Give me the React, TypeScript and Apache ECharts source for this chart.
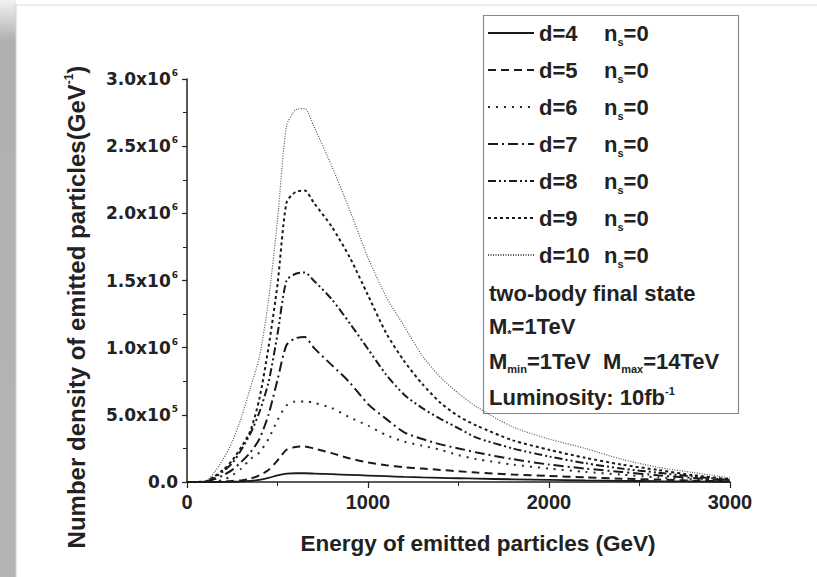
import React, { useEffect, useRef } from "react";
import * as echarts from "echarts";

const energy = [0, 100, 150, 200, 250, 300, 350, 400, 450, 500, 550, 600, 650, 700, 800, 900, 1000, 1100, 1200, 1300, 1400, 1500, 1600, 1800, 2000, 2200, 2400, 2600, 2800, 3000];

// values in units of 1e6 GeV^-1
const d4 = [0, 0, 0, 0.001, 0.002, 0.004, 0.008, 0.015, 0.03, 0.05, 0.062, 0.065, 0.065, 0.063, 0.058, 0.053, 0.048, 0.043, 0.038, 0.034, 0.031, 0.028, 0.025, 0.02, 0.016, 0.012, 0.009, 0.006, 0.004, 0.002];
const d5 = [0, 0, 0, 0.003, 0.008, 0.012, 0.025, 0.05, 0.09, 0.16, 0.24, 0.26, 0.265, 0.25, 0.215, 0.175, 0.145, 0.125, 0.11, 0.1, 0.09, 0.08, 0.07, 0.055, 0.045, 0.035, 0.025, 0.018, 0.01, 0.004];
const d6 = [0, 0, 0.005, 0.015, 0.05, 0.1, 0.17, 0.22, 0.32, 0.46, 0.57, 0.6, 0.6, 0.59, 0.55, 0.48, 0.42, 0.35, 0.3, 0.27, 0.24, 0.2, 0.17, 0.13, 0.1, 0.075, 0.055, 0.035, 0.02, 0.008];
const d7 = [0, 0.001, 0.02, 0.05, 0.09, 0.15, 0.22, 0.32, 0.5, 0.76, 1.02, 1.07, 1.08, 1.0, 0.87, 0.74, 0.58, 0.47, 0.37, 0.32, 0.28, 0.25, 0.22, 0.17, 0.13, 0.1, 0.075, 0.05, 0.03, 0.01];
const d8 = [0, 0.002, 0.03, 0.08, 0.14, 0.24, 0.36, 0.52, 0.74, 1.1, 1.5, 1.55, 1.56, 1.5, 1.36, 1.18, 0.99, 0.8, 0.65, 0.55, 0.47, 0.4, 0.33, 0.25, 0.19, 0.14, 0.1, 0.07, 0.04, 0.015];
const d9 = [0, 0.003, 0.04, 0.09, 0.16, 0.26, 0.38, 0.62, 1.0, 1.47, 2.08, 2.16, 2.17, 2.08, 1.9, 1.67, 1.39, 1.11, 0.9, 0.73, 0.59, 0.49, 0.42, 0.31, 0.24, 0.18, 0.13, 0.09, 0.05, 0.02];
const d10 = [0, 0.005, 0.07, 0.17, 0.3, 0.48, 0.7, 0.93, 1.35, 1.95, 2.65, 2.77, 2.78, 2.65, 2.35, 2.02, 1.67, 1.38, 1.16, 0.94, 0.78, 0.66, 0.56, 0.41, 0.32, 0.25, 0.17, 0.11, 0.07, 0.03];

const seriesNames = ["d=4", "d=5", "d=6", "d=7", "d=8", "d=9", "d=10"];
const seriesValues = [d4, d5, d6, d7, d8, d9, d10];
const seriesDash: (string | number[])[] = ["solid", [8, 5], [2, 6], [10, 4, 2, 4], [8, 3, 2, 3, 2, 3], [3, 3], [1, 1.5]];
const seriesColor = ["#1a1a1a", "#1a1a1a", "#2a2a2a", "#1a1a1a", "#1a1a1a", "#1a1a1a", "#555555"];
const seriesWidth = [1.8, 2, 2, 2, 2, 2, 1.2];

const yMantissa = ["0.0", "5.0", "1.0", "1.5", "2.0", "2.5", "3.0"];
const yExponent = ["", "5", "6", "6", "6", "6", "6"];
const xTickLabels = ["0", "1000", "2000", "3000"];

const infoLines = [
  "two-body final state",
  "M{sub|*}=1TeV",
  "M{sub|min}=1TeV  M{sub|max}=14TeV",
  "Luminosity: 10fb{sup|-1}",
];

const FONT = "'Liberation Sans', Arial, sans-serif";
const WIDE = "'DejaVu Sans', sans-serif";
const INK = "#222";

export default function App() {
  const ref = useRef<HTMLDivElement>(null);
  useEffect(() => {
    if (!ref.current) return;
    const chart = echarts.init(ref.current, undefined, { renderer: "svg" });
    const series = seriesNames.map((name, i) => ({
      name,
      type: "line",
      data: energy.map((e, k) => [e, seriesValues[i][k] * 1e6]),
      showSymbol: false,
      symbol: "none",
      smooth: 0.25,
      lineStyle: { color: seriesColor[i], width: seriesWidth[i], type: seriesDash[i] },
      itemStyle: { color: seriesColor[i] },
      z: 10 - i,
    }));
    const infoY = [293, 326, 361, 397];
    chart.setOption({
      animation: false,
      backgroundColor: "#ffffff",
      textStyle: { fontFamily: FONT },
      grid: { left: 187, right: 87, top: 79, bottom: 95, containLabel: false },
      xAxis: {
        type: "value",
        min: 0,
        max: 3000,
        interval: 1000,
        axisLine: { show: true, lineStyle: { color: INK, width: 1.5 } },
        axisTick: { show: true, length: 6, lineStyle: { color: INK, width: 1.2 } },
        minorTick: { show: true, splitNumber: 2, length: 4, lineStyle: { color: INK, width: 1 } },
        splitLine: { show: false },
        axisLabel: {
          margin: 10,
          fontSize: 20,
          fontWeight: "bold",
          color: INK,
          fontFamily: FONT,
          formatter: (v: number) => xTickLabels[Math.round(v / 1000)] ?? "",
        },
      },
      yAxis: {
        type: "value",
        min: 0,
        max: 3000000,
        interval: 500000,
        axisLine: { show: true, lineStyle: { color: INK, width: 1.5 } },
        axisTick: { show: true, length: 5, lineStyle: { color: INK, width: 1.2 } },
        minorTick: { show: true, splitNumber: 2, length: 4, lineStyle: { color: INK, width: 1 } },
        splitLine: { show: false },
        axisLabel: {
          margin: 9,
          fontSize: 17,
          fontWeight: "bold",
          color: INK,
          fontFamily: WIDE,
          formatter: (v: number) => {
            const i = Math.round(v / 500000);
            return yExponent[i] ? `${yMantissa[i]}x10{sup|${yExponent[i]}}` : yMantissa[i];
          },
          rich: {
            sup: { fontSize: 9, fontWeight: "bold", color: INK, fontFamily: WIDE, verticalAlign: "top", padding: [0, 0, 12, 1] },
          },
        },
      },
      legend: {
        data: seriesNames,
        orient: "vertical",
        left: 482,
        top: 17,
        itemWidth: 46,
        itemHeight: 14,
        itemGap: 12,
        itemStyle: { color: "rgba(0,0,0,0)", borderColor: "rgba(0,0,0,0)", borderWidth: 0, opacity: 0 },
        formatter: (name: string) => `{a|${name}}{n|n}{s|s}{n|=0}`,
        textStyle: {
          fontSize: 22,
          fontWeight: "bold",
          color: INK,
          fontFamily: FONT,
          rich: {
            a: { width: 65, fontSize: 22, fontWeight: "bold", color: INK, fontFamily: FONT },
            n: { fontSize: 22, fontWeight: "bold", color: INK, fontFamily: FONT },
            s: { fontSize: 11, fontWeight: "bold", color: INK, fontFamily: FONT, verticalAlign: "bottom", padding: [17, 0, 0, 0] },
          },
        },
      },
      graphic: [
        {
          type: "rect",
          shape: { x: 0, y: 0, width: 16, height: 577 },
          style: {
            fill: new echarts.graphic.LinearGradient(0, 0, 0, 1, [
              { offset: 0, color: "#f2f2f2" },
              { offset: 0.07, color: "#b0b0b0" },
              { offset: 1, color: "#b5b5b5" },
            ]),
          },
          silent: true,
        },
        {
          type: "line",
          shape: { x1: 16, y1: 5, x2: 817, y2: 5 },
          style: { stroke: "#dddddd", lineWidth: 1 },
          silent: true,
        },
        {
          type: "line",
          shape: { x1: 16, y1: 5, x2: 16, y2: 577 },
          style: { stroke: "#d0d0d0", lineWidth: 1 },
          silent: true,
        },
        {
          type: "rect",
          shape: { x: 483.5, y: 15.5, width: 255, height: 398 },
          style: { fill: "rgba(255,255,255,0)", stroke: "#8a8a8a", lineWidth: 1.2 },
          silent: true,
          z: 1,
        },
        ...infoLines.map((t, i) => ({
          type: "text",
          x: 489,
          y: infoY[i],
          style: {
            text: t,
            fill: INK,
            fontSize: 22,
            fontWeight: "bold",
            fontFamily: FONT,
            verticalAlign: "middle",
            rich: {
              sub: { fontSize: 11, fontWeight: "bold", fill: INK, fontFamily: FONT, verticalAlign: "bottom", padding: [16, 0, 0, 0] },
              sup: { fontSize: 11, fontWeight: "bold", fill: INK, fontFamily: FONT, verticalAlign: "top", padding: [0, 0, 12, 0] },
            },
          },
          silent: true,
        })),
        {
          type: "text",
          x: 478,
          y: 543,
          style: {
            text: "Energy of emitted particles (GeV)",
            fill: INK,
            fontSize: 22.5,
            fontWeight: "bold",
            fontFamily: FONT,
            align: "center",
            verticalAlign: "middle",
          },
          silent: true,
        },
        {
          type: "text",
          x: 76,
          y: 307,
          rotation: Math.PI / 2,
          style: {
            text: "Number density of emitted particles(GeV{sup|-1})",
            fill: INK,
            fontSize: 24,
            fontWeight: "bold",
            fontFamily: FONT,
            align: "center",
            verticalAlign: "middle",
            rich: {
              sup: { fontSize: 12, fontWeight: "bold", fill: INK, fontFamily: FONT, verticalAlign: "top", padding: [0, 0, 14, 0] },
            },
          },
          silent: true,
        },
      ],
      series,
    });
    return () => chart.dispose();
  }, []);
  return (
    <div style={{ position: "fixed", left: 0, top: 0, width: 817, height: 577, background: "#fff" }}>
      <div ref={ref} style={{ width: 817, height: 577 }} />
    </div>
  );
}
